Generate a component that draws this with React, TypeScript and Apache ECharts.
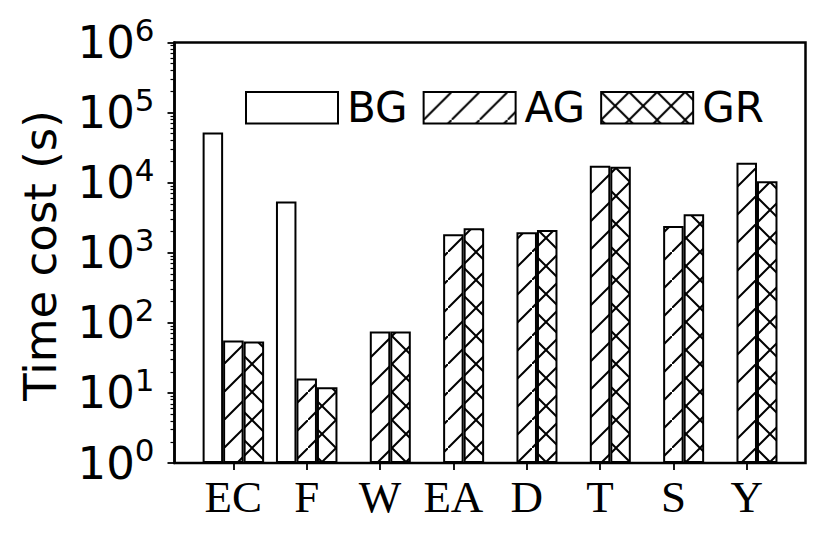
import React, { useEffect, useRef } from 'react';
import * as echarts from 'echarts';

const categories = ['EC', 'F', 'W', 'EA', 'D', 'T', 'S', 'Y'];
const seriesNames = ['BG', 'AG', 'GR'];
const bgValues = [52000, 5400, null, null, null, null, null, null];
const agValues = [56, 16, 75, 1830, 1960, 17500, 2400, 19300];
const grValues = [54, 12, 75, 2230, 2110, 16900, 3540, 10500];
const yTitle = 'Time cost (s)';
const yMin = 1;
const yMax = 1e6;
const minorMultipliers = [2, 3, 4, 5, 6, 7, 8, 9];
const decades = [0, 1, 2, 3, 4, 5];

const HATCH = 28;

function makeHatch(kind: 'slash' | 'cross'): HTMLCanvasElement {
  const s = HATCH;
  const c = document.createElement('canvas');
  c.width = s;
  c.height = s;
  const ctx = c.getContext('2d')!;
  ctx.fillStyle = '#ffffff';
  ctx.fillRect(0, 0, s, s);
  ctx.strokeStyle = '#000000';
  ctx.lineWidth = 2;
  const line = (x1: number, y1: number, x2: number, y2: number) => {
    ctx.beginPath();
    ctx.moveTo(x1, y1);
    ctx.lineTo(x2, y2);
    ctx.stroke();
  };
  line(-2, s + 2, s + 2, -2);
  if (kind === 'cross') line(-2, -2, s + 2, s + 2);
  return c;
}

export default function App() {
  const ref = useRef<HTMLDivElement>(null);
  useEffect(() => {
    if (!ref.current) return;
    const chart = echarts.init(ref.current, undefined, { renderer: 'svg' });
    const slash = { image: makeHatch('slash'), repeat: 'repeat', imageWidth: HATCH, imageHeight: HATCH };
    const cross = { image: makeHatch('cross'), repeat: 'repeat', imageWidth: HATCH, imageHeight: HATCH };
    const minorTicks: number[] = [];
    decades.forEach((d) => minorMultipliers.forEach((m) => minorTicks.push(d + Math.log10(m))));
    const fills: any[] = ['#ffffff', slash, cross];
    const datas = [bgValues, agValues, grValues];

    const option: any = {
      animation: false,
      backgroundColor: '#ffffff',
      grid: [
        { left: 174.5, right: 24.5, top: 42.5, bottom: 85, show: true, borderColor: '#000', borderWidth: 2.5, backgroundColor: 'transparent' },
        { left: 196.7, width: 586.7, top: 42.5, bottom: 85 },
      ],
      graphic: [
        {
          type: 'text',
          x: 40,
          y: 255.5,
          rotation: Math.PI / 2,
          style: {
            text: yTitle,
            font: '45px "DejaVu Sans"',
            fill: '#000',
            textAlign: 'center',
            textVerticalAlign: 'middle',
          },
        },
      ],
      legend: {
        data: seriesNames,
        left: 245,
        top: 86.7,
        padding: 0,
        itemWidth: 92,
        itemHeight: 31.6,
        itemGap: 15,
        icon: 'rect',
        itemStyle: { borderColor: '#000', borderWidth: 2 },
        textStyle: { fontFamily: 'DejaVu Sans', fontSize: 42, color: '#000', padding: [0, 0, 0, 4] },
      },
      xAxis: [
        { gridIndex: 0, type: 'value', show: false, min: 0, max: 1 },
        {
          gridIndex: 1,
          type: 'category',
          data: categories,
          axisLine: { show: false },
          axisTick: { show: true, interval: 0, alignWithLabel: true, length: 7, lineStyle: { color: '#000', width: 1.8 } },
          axisLabel: { interval: 0, fontFamily: 'Liberation Serif', fontSize: 45, color: '#000', margin: 11 },
        },
      ],
      yAxis: [
        {
          gridIndex: 0,
          type: 'log',
          logBase: 10,
          min: yMin,
          max: yMax,
          splitNumber: 6,
          position: 'left',
          axisLine: { show: true, lineStyle: { color: '#000', width: 2.5 } },
          axisTick: { show: true, length: 7, lineStyle: { color: '#000', width: 1.8 } },
          splitLine: { show: false },
          axisLabel: {
            margin: 20,
            formatter: (v: number) => `{b|10}{s|${Math.round(Math.log10(v))}}`,
            rich: {
              b: { fontFamily: 'DejaVu Sans', fontSize: 45, color: '#000', padding: [6, 0, 6, 0] },
              s: { fontFamily: 'DejaVu Sans', fontSize: 31, color: '#000', verticalAlign: 'top' },
            },
          },
        },
        {
          gridIndex: 0,
          type: 'value',
          min: 0,
          max: 6,
          position: 'left',
          axisLine: { show: false },
          axisLabel: { show: false },
          splitLine: { show: false },
          axisTick: { show: true, length: 4, customValues: minorTicks, lineStyle: { color: '#000', width: 1.2 } },
        },
        { gridIndex: 1, type: 'log', logBase: 10, min: yMin, max: yMax, show: false },
      ],
      series: seriesNames.map((name, i) => ({
        name,
        type: 'bar',
        xAxisIndex: 1,
        yAxisIndex: 2,
        data: datas[i],
        barWidth: 20.5,
        barGap: '0%',
        itemStyle: { color: fills[i], borderColor: '#000', borderWidth: 2 },
      })),
    };
    chart.setOption(option);
    return () => chart.dispose();
  }, []);
  return <div ref={ref} style={{ position: 'fixed', left: 0, top: 0, width: 830, height: 548 }} />;
}
